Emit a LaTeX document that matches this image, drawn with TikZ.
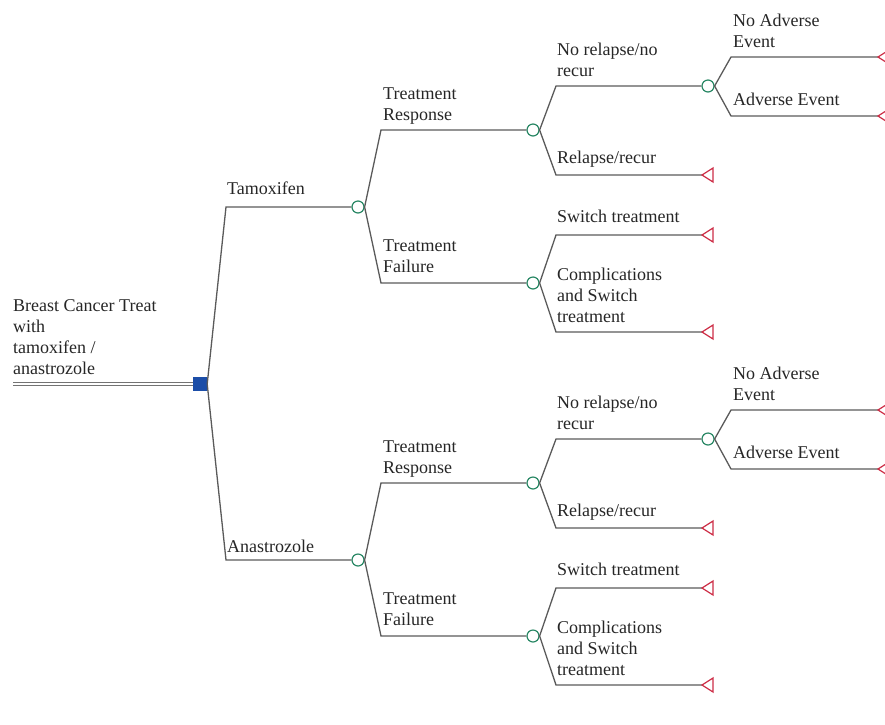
\documentclass[tikz,border=0pt]{standalone}
\usepackage{fontspec}
\setmainfont{Liberation Serif}
\definecolor{sqblue}{RGB}{28,78,168}
\definecolor{chgreen}{RGB}{40,135,100}
\definecolor{termred}{RGB}{205,45,70}
\definecolor{edgegray}{RGB}{90,90,90}
\begin{document}
\begin{tikzpicture}[x=1pt,y=-1pt,
  edge/.style={draw=edgegray,line width=1.3pt},
  chance/.style={circle,draw=chgreen,fill=white,line width=1.2pt,minimum size=12pt,inner sep=0pt},
  lbl/.style={anchor=base west,inner sep=0pt,align=left,text=black!85,font=\fontsize{18}{21}\selectfont},
  term/.style={draw=termred,line width=1.2pt},
]
\useasboundingbox (0,0) rectangle (885,724);
% root
\node[fill=sqblue,minimum size=14pt,inner sep=0pt] (sq) at (200,384) {};
\coordinate (start) at (13,384);
\draw[black!55,line width=0.9pt,double=white,double distance=2pt] (start) -- (sq.west);
\node[lbl] (roottxt) at (13,374) {Breast Cancer Treat\\with\\tamoxifen /\\anastrozole};
\node[lbl] (tamlbl) at (227,194) {Tamoxifen};
\node[lbl] (analbl) at (227,552) {Anastrozole};
\node[chance] (a-c1) at (358,207) {};
\node[chance] (b-c1) at (358,560) {};
\path[edge] (sq.east) -- (226,207) -- (a-c1.west);
\path[edge] (sq.east) -- (226,560) -- (b-c1.west);
\foreach \p/\dy in {a/0,b/353}{
  \begin{scope}[yshift=-\dy pt]
  \node[chance] (\p-c2) at (533,130) {};
  \node[chance] (\p-c3) at (708,86) {};
  \node[chance] (\p-c4) at (533,283) {};
  \coordinate (\p-t1) at (878,57);
  \coordinate (\p-t2) at (878,116);
  \coordinate (\p-t3) at (702,175);
  \coordinate (\p-t4) at (702,235);
  \coordinate (\p-t5) at (702,332);
  \path[edge] (\p-c1.east) -- (381,130) -- (\p-c2.west);
  \path[edge] (\p-c1.east) -- (381,283) -- (\p-c4.west);
  \path[edge] (\p-c2.east) -- (556,86) -- (\p-c3.west);
  \path[edge] (\p-c2.east) -- (556,175) -- (\p-t3);
  \path[edge] (\p-c3.east) -- (731,57) -- (\p-t1);
  \path[edge] (\p-c3.east) -- (731,116) -- (\p-t2);
  \path[edge] (\p-c4.east) -- (556,235) -- (\p-t4);
  \path[edge] (\p-c4.east) -- (556,332) -- (\p-t5);
  \foreach \t in {t1,t2,t3,t4,t5}{
    \draw[term] (\p-\t) -- ++(11,-7) -- ++(0,14) -- cycle;
  }
  \node[lbl] (\p-l1) at (383,120) {Treatment\\Response};
  \node[lbl] (\p-l2) at (383,272) {Treatment\\Failure};
  \node[lbl] (\p-l3) at (557,76) {No relapse/no\\recur};
  \node[lbl] (\p-l4) at (557,163) {Relapse/recur};
  \node[lbl] (\p-l5) at (733,47) {No Adverse\\Event};
  \node[lbl] (\p-l6) at (733,105) {Adverse Event};
  \node[lbl] (\p-l7) at (557,222) {Switch treatment};
  \node[lbl] (\p-l8) at (557,322) {Complications\\and Switch\\treatment};
  \end{scope}
}
\end{tikzpicture}
\end{document}
